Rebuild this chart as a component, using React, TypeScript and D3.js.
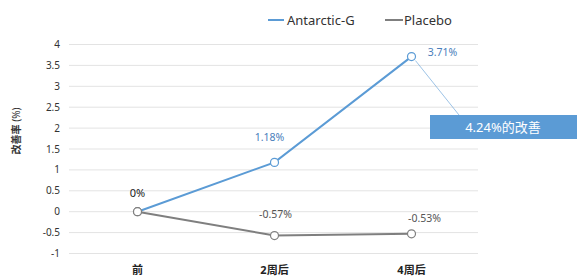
import React from "react";
import * as d3 from "d3";

const categories = ["前", "2周后", "4周后"];
const antarctic = [0, 1.18, 3.71];
const placebo = [0, -0.57, -0.53];
const antarcticLabels = ["0%", "1.18%", "3.71%"];
const placeboLabels = ["", "-0.57%", "-0.53%"];
const yTicks = [-1, -0.5, 0, 0.5, 1, 1.5, 2, 2.5, 3, 3.5, 4];
const seriesNames = ["Antarctic-G", "Placebo"];
const annotationText = "4.24%的改善";

const W = 577, H = 278;
const BLUE = "#5b9bd5";
const GRAY = "#7f7f7f";
const FONT = "'Noto Sans', 'Noto Sans CJK SC', sans-serif";

export default function App() {
  const x = d3.scaleBand<string>().domain(categories).range([69, 480]);
  const cx = (c: string) => (x(c) as number) + x.bandwidth() / 2;
  const y = d3.scaleLinear().domain([-1, 4]).range([253.5, 44.5]);
  const line = d3.line<number>().x((_, i) => cx(categories[i])).y((d) => y(d));

  const fmt = (t: number) => (t === 0 ? "0" : String(t));

  const lastX = cx(categories[2]);
  const lastY = y(antarctic[2]);

  return (
    <svg width={W} height={H} style={{ position: "absolute", left: 0, top: 0, background: "#fff" }} fontFamily={FONT}>
      {yTicks.map((t) => (
        <g key={t}>
          <line x1={69} x2={478} y1={y(t)} y2={y(t)} stroke="#e3e3e3" strokeWidth={1} />
          <text x={60} y={y(t)} dy="0.35em" textAnchor="end" fontSize={10} fill="#333">{fmt(t)}</text>
        </g>
      ))}
      <text transform={`translate(20,131) rotate(-90)`} textAnchor="middle" fontSize={10} fill="#333">
        <tspan fontWeight="bold">改善率</tspan> (%)
      </text>
      {categories.map((c) => (
        <text key={c} x={cx(c)} y={270} dy="0.35em" textAnchor="middle" fontSize={11} fontWeight="bold" fill="#222">{c}</text>
      ))}
      {/* legend */}
      <line x1={268} x2={284} y1={20} y2={20} stroke={BLUE} strokeWidth={2} />
      <text x={287} y={20} dy="0.35em" fontSize={13} fill="#333">{seriesNames[0]}</text>
      <line x1={385} x2={403} y1={20} y2={20} stroke={GRAY} strokeWidth={2} />
      <text x={404} y={20} dy="0.35em" fontSize={13} fill="#333">{seriesNames[1]}</text>
      {/* leader line */}
      <line x1={lastX + 4} x2={459} y1={lastY + 4} y2={115} stroke={BLUE} strokeWidth={0.6} />
      <path d={line(placebo) as string} fill="none" stroke={GRAY} strokeWidth={2} />
      <path d={line(antarctic) as string} fill="none" stroke={BLUE} strokeWidth={2} />
      {placebo.map((v, i) => (
        <circle key={"p" + i} cx={cx(categories[i])} cy={y(v)} r={4} fill="#fff" stroke={GRAY} strokeWidth={1.2} />
      ))}
      {antarctic.map((v, i) => (
        <circle key={"a" + i} cx={cx(categories[i])} cy={y(v)} r={4} fill="#fff" stroke={i === 0 ? GRAY : BLUE} strokeWidth={1.2} />
      ))}
      {/* labels */}
      <text x={cx(categories[0])} y={193} dy="0.35em" textAnchor="middle" fontSize={11} fill="#222">{antarcticLabels[0]}</text>
      <text x={cx(categories[1]) - 5} y={137} dy="0.35em" textAnchor="middle" fontSize={10.5} fill="#4a7ebb">{antarcticLabels[1]}</text>
      <text x={cx(categories[2]) + 31} y={52} dy="0.35em" textAnchor="middle" fontSize={10.5} fill="#4a7ebb">{antarcticLabels[2]}</text>
      <text x={cx(categories[1]) + 1} y={214} dy="0.35em" textAnchor="middle" fontSize={10.5} fill="#555">{placeboLabels[1]}</text>
      <text x={cx(categories[2]) + 13} y={218} dy="0.35em" textAnchor="middle" fontSize={10.5} fill="#555">{placeboLabels[2]}</text>
      {/* annotation box */}
      <rect x={430} y={115} width={147} height={24} fill={BLUE} />
      <text x={503} y={127} dy="0.35em" textAnchor="middle" fontSize={13} fill="#fff">{annotationText}</text>
    </svg>
  );
}
